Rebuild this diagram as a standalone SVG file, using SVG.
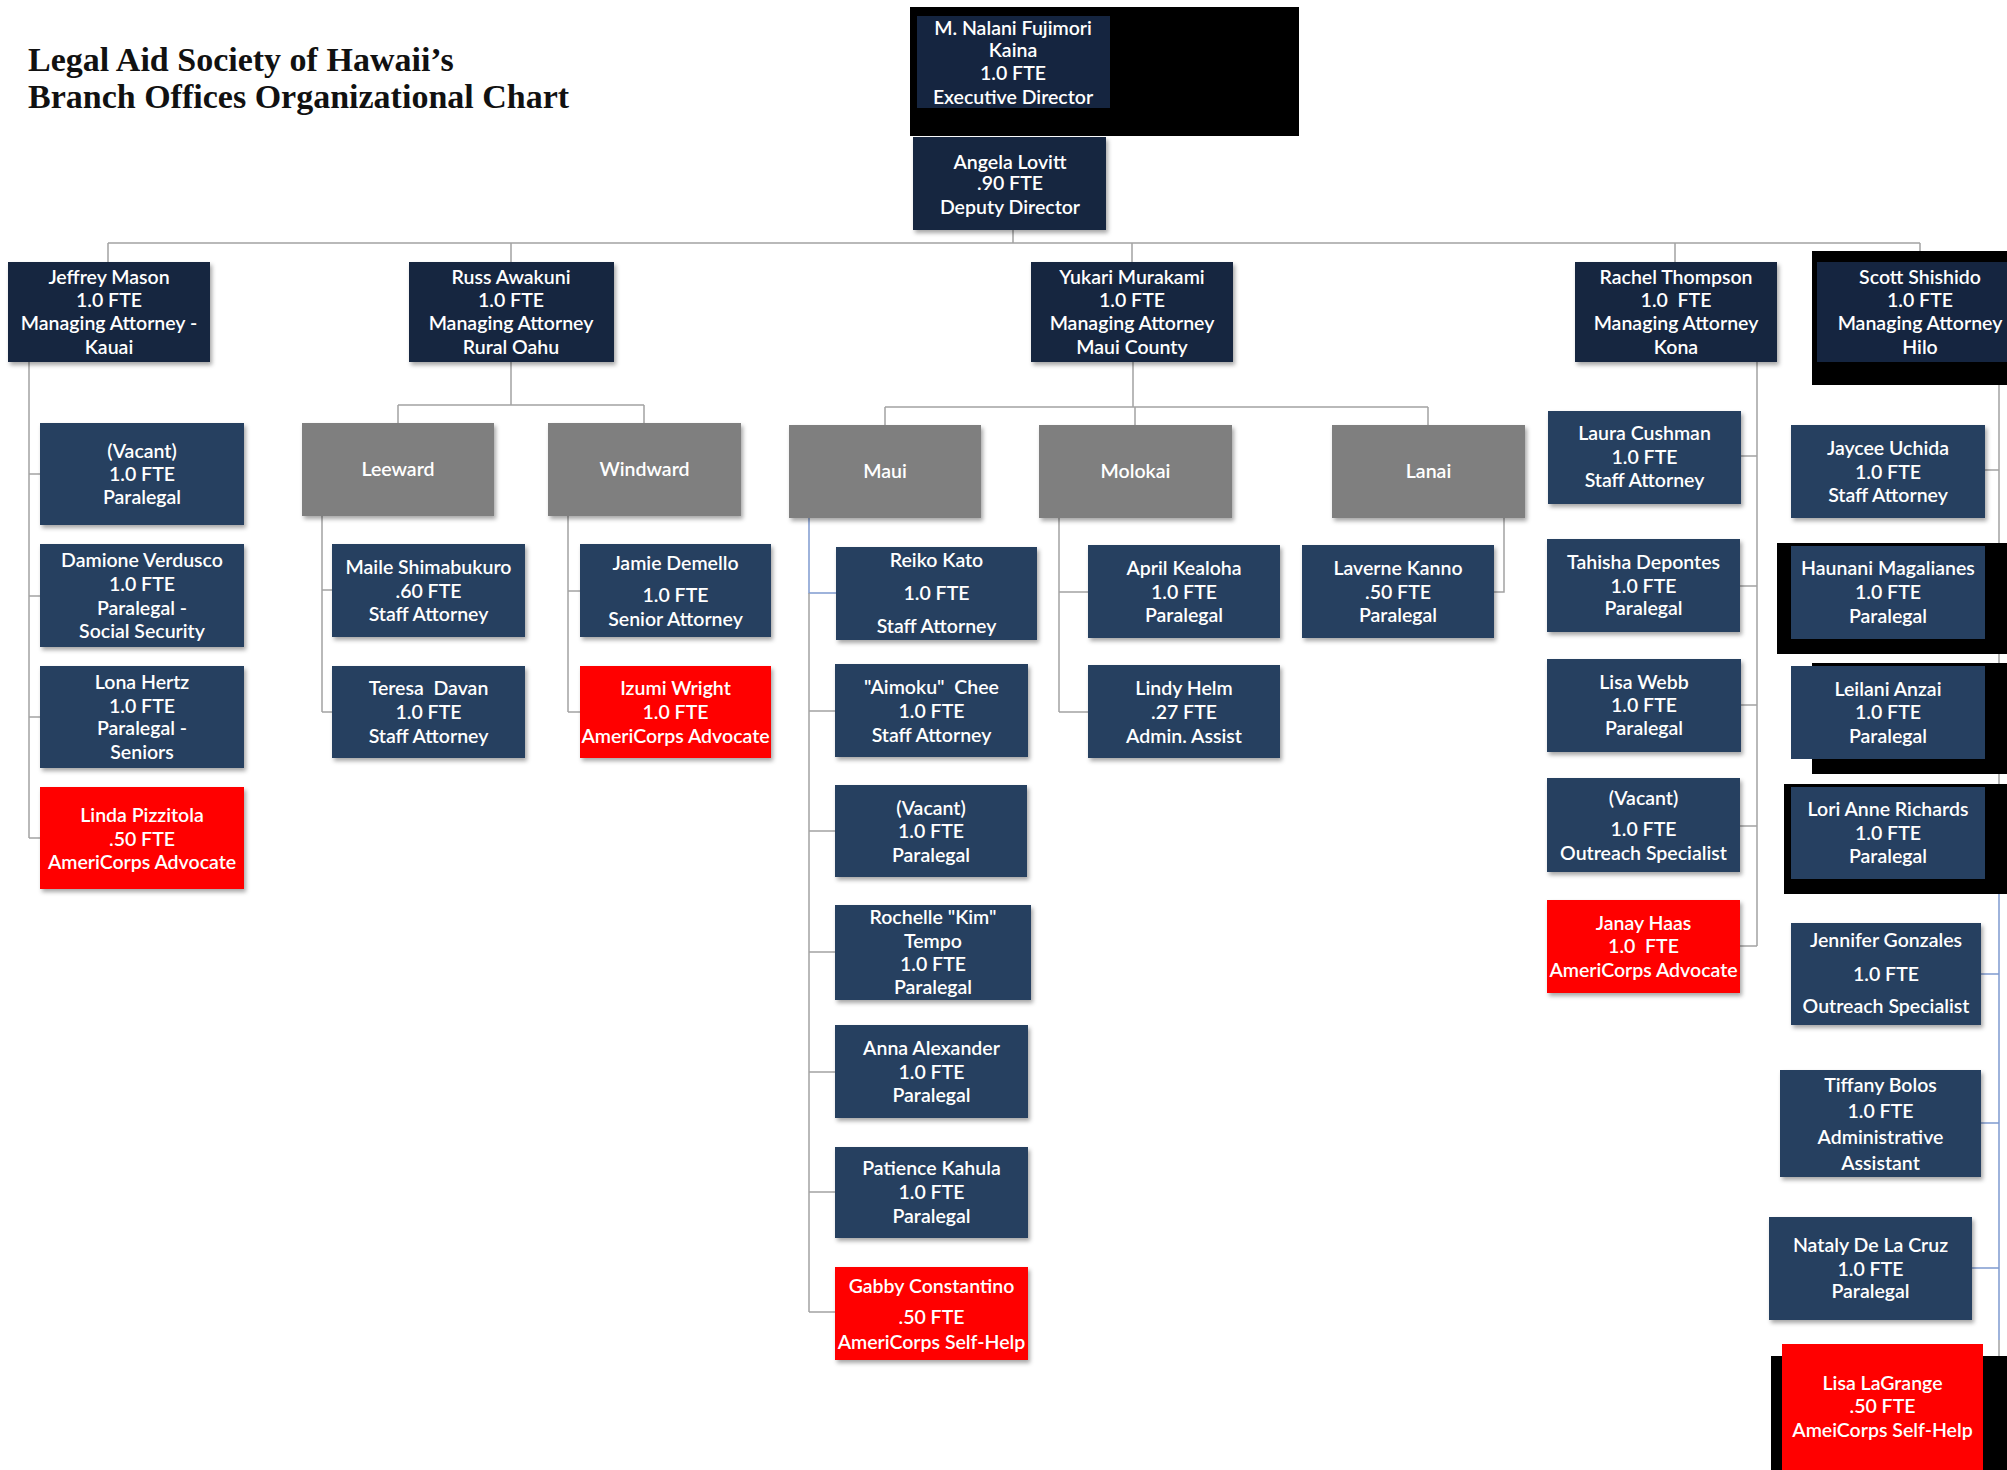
<svg xmlns="http://www.w3.org/2000/svg" width="2007" height="1470" viewBox="0 0 2007 1470">
<defs>
<filter id="sh" x="-10%" y="-10%" width="125%" height="130%"><feDropShadow dx="2" dy="3" stdDeviation="2" flood-color="#000" flood-opacity="0.35"/></filter>
<style>
.bg{fill:#ffffff}
.title{font-family:"Liberation Serif","Times New Roman",serif;font-weight:bold;font-size:34px;fill:#111111}
.t{font-family:Lato,"Open Sans",sans-serif;font-weight:600;font-size:19.5px;fill:#ffffff;text-anchor:middle}
.mgr{fill:#152540;filter:url(#sh)}
.staff{fill:#264061;filter:url(#sh)}
.grp{fill:#7f7f7f;filter:url(#sh)}
.red{fill:#ff0000;filter:url(#sh)}
.blk{fill:#000000}
.c{fill:none;stroke:#a3a3a3;stroke-width:1.5}
.cb{fill:none;stroke:#7f9bd0;stroke-width:1.5}
</style>
</defs>
<rect class="bg" x="0" y="0" width="2007" height="1470"/>
<g id="title">
<text class="title" x="28" y="71">Legal Aid Society of Hawaii’s</text>
<text class="title" x="28" y="108">Branch Offices Organizational Chart</text>
</g>
<g id="connectors">
<path class="c" d="M1013,230V243M108,243H1920M108,243V262M511,243V262M1132,243V262M1675,243V262M1920,243V251"/>
<path class="c" d="M29,362V838M29,474H40M29,596H40M29,717H40M29,838H40"/>
<path class="c" d="M511,362V405M398,405H644M398,405V423M644,405V423"/>
<path class="c" d="M322,516V712M322,590H332M322,712H332M568,516V712M568,591H580M568,712H580"/>
<path class="c" d="M1133,362V407M885,407H1428M885,407V425M1135,407V425M1428,407V425"/>
<path class="cb" d="M809,518V593H836"/>
<path class="c" d="M809,593V1312M809,711H835M809,831H835M809,952H835M809,1072H835M809,1192H835M809,1312H835"/>
<path class="c" d="M1059,518V712M1059,592H1088M1059,712H1088M1504,518V592H1494"/>
<path class="c" d="M1757,362V946M1757,456H1741M1757,586H1740M1757,705H1741M1757,826H1740M1757,946H1740"/>
<path class="c" d="M1999,385V893M1999,470H1985M1999,592H1985M1999,712H1985M1999,833H1985M1999,1340V1356"/>
<path class="cb" d="M1999,893V1340M1999,974H1981M1999,1123H1981M1999,1268H1972"/>
</g>
<g id="n-exec">
<rect class="blk" x="910" y="7" width="389" height="129"/>
<rect fill="#152540" x="917" y="16" width="193" height="92"/>
<text class="t" x="1013" y="35">M. Nalani Fujimori</text>
<text class="t" x="1013" y="57">Kaina</text>
<text class="t" x="1013" y="80">1.0 FTE</text>
<text class="t" x="1013" y="104">Executive Director</text>
</g>
<g id="n-deputy">
<rect class="mgr" x="913" y="137" width="193" height="93"/>
<text class="t" x="1010" y="169">Angela Lovitt</text>
<text class="t" x="1010" y="190">.90 FTE</text>
<text class="t" x="1010" y="214">Deputy Director</text>
</g>
<g id="n-jeffrey">
<rect class="mgr" x="8" y="262" width="202" height="100"/>
<text class="t" x="109" y="284">Jeffrey Mason</text>
<text class="t" x="109" y="307">1.0 FTE</text>
<text class="t" x="109" y="330">Managing Attorney -</text>
<text class="t" x="109" y="354">Kauai</text>
</g>
<g id="n-russ">
<rect class="mgr" x="409" y="262" width="205" height="100"/>
<text class="t" x="511" y="284">Russ Awakuni</text>
<text class="t" x="511" y="307">1.0 FTE</text>
<text class="t" x="511" y="330">Managing Attorney</text>
<text class="t" x="511" y="354">Rural Oahu</text>
</g>
<g id="n-yukari">
<rect class="mgr" x="1031" y="262" width="202" height="100"/>
<text class="t" x="1132" y="284">Yukari Murakami</text>
<text class="t" x="1132" y="307">1.0 FTE</text>
<text class="t" x="1132" y="330">Managing Attorney</text>
<text class="t" x="1132" y="354">Maui County</text>
</g>
<g id="n-rachel">
<rect class="mgr" x="1575" y="262" width="202" height="100"/>
<text class="t" x="1676" y="284">Rachel Thompson</text>
<text class="t" x="1676" y="307" xml:space="preserve">1.0  FTE</text>
<text class="t" x="1676" y="330">Managing Attorney</text>
<text class="t" x="1676" y="354">Kona</text>
</g>
<g id="n-scott">
<rect class="blk" x="1812" y="251" width="200" height="134"/>
<rect fill="#152540" x="1817" y="262" width="206" height="100"/>
<text class="t" x="1920" y="284">Scott Shishido</text>
<text class="t" x="1920" y="307">1.0 FTE</text>
<text class="t" x="1920" y="330">Managing Attorney</text>
<text class="t" x="1920" y="354">Hilo</text>
</g>
<g id="n-kauai-vacant">
<rect class="staff" x="40" y="423" width="204" height="102"/>
<text class="t" x="142" y="458">(Vacant)</text>
<text class="t" x="142" y="481">1.0 FTE</text>
<text class="t" x="142" y="504">Paralegal</text>
</g>
<g id="n-damione">
<rect class="staff" x="40" y="544" width="204" height="103"/>
<text class="t" x="142" y="567">Damione Verdusco</text>
<text class="t" x="142" y="591">1.0 FTE</text>
<text class="t" x="142" y="615">Paralegal -</text>
<text class="t" x="142" y="638">Social Security</text>
</g>
<g id="n-lona">
<rect class="staff" x="40" y="666" width="204" height="102"/>
<text class="t" x="142" y="689">Lona Hertz</text>
<text class="t" x="142" y="713">1.0 FTE</text>
<text class="t" x="142" y="735">Paralegal -</text>
<text class="t" x="142" y="759">Seniors</text>
</g>
<g id="n-linda">
<rect class="red" x="40" y="787" width="204" height="102"/>
<text class="t" x="142" y="822">Linda Pizzitola</text>
<text class="t" x="142" y="846">.50 FTE</text>
<text class="t" x="142" y="869">AmeriCorps Advocate</text>
</g>
<g id="n-leeward">
<rect class="grp" x="302" y="423" width="192" height="93"/>
<text class="t" x="398" y="476">Leeward</text>
</g>
<g id="n-windward">
<rect class="grp" x="548" y="423" width="193" height="93"/>
<text class="t" x="644.5" y="476">Windward</text>
</g>
<g id="n-maile">
<rect class="staff" x="332" y="544" width="193" height="93"/>
<text class="t" x="428.5" y="574">Maile Shimabukuro</text>
<text class="t" x="428.5" y="598">.60 FTE</text>
<text class="t" x="428.5" y="621">Staff Attorney</text>
</g>
<g id="n-teresa">
<rect class="staff" x="332" y="666" width="193" height="92"/>
<text class="t" x="428.5" y="695" xml:space="preserve">Teresa  Davan</text>
<text class="t" x="428.5" y="719">1.0 FTE</text>
<text class="t" x="428.5" y="743">Staff Attorney</text>
</g>
<g id="n-jamie">
<rect class="staff" x="580" y="544" width="191" height="93"/>
<text class="t" x="675.5" y="570">Jamie Demello</text>
<text class="t" x="675.5" y="602">1.0 FTE</text>
<text class="t" x="675.5" y="626">Senior Attorney</text>
</g>
<g id="n-izumi">
<rect class="red" x="580" y="666" width="191" height="92"/>
<text class="t" x="675.5" y="695">Izumi Wright</text>
<text class="t" x="675.5" y="719">1.0 FTE</text>
<text class="t" x="675.5" y="743">AmeriCorps Advocate</text>
</g>
<g id="n-maui">
<rect class="grp" x="789" y="425" width="192" height="93"/>
<text class="t" x="885" y="478">Maui</text>
</g>
<g id="n-molokai">
<rect class="grp" x="1039" y="425" width="193" height="93"/>
<text class="t" x="1135.5" y="478">Molokai</text>
</g>
<g id="n-lanai">
<rect class="grp" x="1332" y="425" width="193" height="93"/>
<text class="t" x="1428.5" y="478">Lanai</text>
</g>
<g id="n-reiko">
<rect class="staff" x="836" y="547" width="201" height="93"/>
<text class="t" x="936.5" y="567">Reiko Kato</text>
<text class="t" x="936.5" y="600">1.0 FTE</text>
<text class="t" x="936.5" y="633">Staff Attorney</text>
</g>
<g id="n-aimoku">
<rect class="staff" x="835" y="664" width="193" height="93"/>
<text class="t" x="931.5" y="694" xml:space="preserve">"Aimoku"  Chee</text>
<text class="t" x="931.5" y="718">1.0 FTE</text>
<text class="t" x="931.5" y="742">Staff Attorney</text>
</g>
<g id="n-maui-vacant">
<rect class="staff" x="835" y="785" width="192" height="92"/>
<text class="t" x="931" y="815">(Vacant)</text>
<text class="t" x="931" y="838">1.0 FTE</text>
<text class="t" x="931" y="862">Paralegal</text>
</g>
<g id="n-rochelle">
<rect class="staff" x="835" y="905" width="196" height="95"/>
<text class="t" x="933" y="924">Rochelle "Kim"</text>
<text class="t" x="933" y="948">Tempo</text>
<text class="t" x="933" y="971">1.0 FTE</text>
<text class="t" x="933" y="994">Paralegal</text>
</g>
<g id="n-anna">
<rect class="staff" x="835" y="1025" width="193" height="93"/>
<text class="t" x="931.5" y="1055">Anna Alexander</text>
<text class="t" x="931.5" y="1079">1.0 FTE</text>
<text class="t" x="931.5" y="1102">Paralegal</text>
</g>
<g id="n-patience">
<rect class="staff" x="835" y="1147" width="193" height="91"/>
<text class="t" x="931.5" y="1175">Patience Kahula</text>
<text class="t" x="931.5" y="1199">1.0 FTE</text>
<text class="t" x="931.5" y="1223">Paralegal</text>
</g>
<g id="n-gabby">
<rect class="red" x="835" y="1267" width="193" height="93"/>
<text class="t" x="931.5" y="1293">Gabby Constantino</text>
<text class="t" x="931.5" y="1324">.50 FTE</text>
<text class="t" x="931.5" y="1349">AmeriCorps Self-Help</text>
</g>
<g id="n-april">
<rect class="staff" x="1088" y="545" width="192" height="93"/>
<text class="t" x="1184" y="575">April Kealoha</text>
<text class="t" x="1184" y="599">1.0 FTE</text>
<text class="t" x="1184" y="622">Paralegal</text>
</g>
<g id="n-lindy">
<rect class="staff" x="1088" y="665" width="192" height="93"/>
<text class="t" x="1184" y="695">Lindy Helm</text>
<text class="t" x="1184" y="719">.27 FTE</text>
<text class="t" x="1184" y="743">Admin. Assist</text>
</g>
<g id="n-laverne">
<rect class="staff" x="1302" y="545" width="192" height="93"/>
<text class="t" x="1398" y="575">Laverne Kanno</text>
<text class="t" x="1398" y="599">.50 FTE</text>
<text class="t" x="1398" y="622">Paralegal</text>
</g>
<g id="n-laura">
<rect class="staff" x="1548" y="411" width="193" height="93"/>
<text class="t" x="1644.5" y="440">Laura Cushman</text>
<text class="t" x="1644.5" y="464">1.0 FTE</text>
<text class="t" x="1644.5" y="487">Staff Attorney</text>
</g>
<g id="n-tahisha">
<rect class="staff" x="1547" y="539" width="193" height="93"/>
<text class="t" x="1643.5" y="569">Tahisha Depontes</text>
<text class="t" x="1643.5" y="593">1.0 FTE</text>
<text class="t" x="1643.5" y="615">Paralegal</text>
</g>
<g id="n-lisawebb">
<rect class="staff" x="1547" y="659" width="194" height="93"/>
<text class="t" x="1644" y="689">Lisa Webb</text>
<text class="t" x="1644" y="712">1.0 FTE</text>
<text class="t" x="1644" y="735">Paralegal</text>
</g>
<g id="n-kona-vacant">
<rect class="staff" x="1547" y="778" width="193" height="94"/>
<text class="t" x="1643.5" y="805">(Vacant)</text>
<text class="t" x="1643.5" y="836">1.0 FTE</text>
<text class="t" x="1643.5" y="860">Outreach Specialist</text>
</g>
<g id="n-janay">
<rect class="red" x="1547" y="900" width="193" height="93"/>
<text class="t" x="1643.5" y="930">Janay Haas</text>
<text class="t" x="1643.5" y="953" xml:space="preserve">1.0  FTE</text>
<text class="t" x="1643.5" y="977">AmeriCorps Advocate</text>
</g>
<g id="n-jaycee">
<rect class="staff" x="1791" y="425" width="194" height="93"/>
<text class="t" x="1888" y="455">Jaycee Uchida</text>
<text class="t" x="1888" y="479">1.0 FTE</text>
<text class="t" x="1888" y="502">Staff Attorney</text>
</g>
<g id="n-haunani">
<rect class="blk" x="1777" y="543" width="230" height="111"/>
<rect fill="#264061" x="1791" y="546" width="194" height="93"/>
<text class="t" x="1888" y="575">Haunani Magalianes</text>
<text class="t" x="1888" y="599">1.0 FTE</text>
<text class="t" x="1888" y="623">Paralegal</text>
</g>
<g id="n-leilani">
<rect class="blk" x="1812" y="663" width="195" height="111"/>
<rect fill="#264061" x="1791" y="666" width="194" height="93"/>
<text class="t" x="1888" y="696">Leilani Anzai</text>
<text class="t" x="1888" y="719">1.0 FTE</text>
<text class="t" x="1888" y="743">Paralegal</text>
</g>
<g id="n-lori">
<rect class="blk" x="1784" y="784" width="223" height="110"/>
<rect fill="#264061" x="1791" y="787" width="194" height="92"/>
<text class="t" x="1888" y="816">Lori Anne Richards</text>
<text class="t" x="1888" y="840">1.0 FTE</text>
<text class="t" x="1888" y="863">Paralegal</text>
</g>
<g id="n-jennifer">
<rect class="staff" x="1791" y="923" width="190" height="102"/>
<text class="t" x="1886" y="947">Jennifer Gonzales</text>
<text class="t" x="1886" y="981">1.0 FTE</text>
<text class="t" x="1886" y="1013">Outreach Specialist</text>
</g>
<g id="n-tiffany">
<rect class="staff" x="1780" y="1070" width="201" height="107"/>
<text class="t" x="1880.5" y="1092">Tiffany Bolos</text>
<text class="t" x="1880.5" y="1118">1.0 FTE</text>
<text class="t" x="1880.5" y="1144">Administrative</text>
<text class="t" x="1880.5" y="1170">Assistant</text>
</g>
<g id="n-nataly">
<rect class="staff" x="1769" y="1217" width="203" height="103"/>
<text class="t" x="1870.5" y="1252">Nataly De La Cruz</text>
<text class="t" x="1870.5" y="1276">1.0 FTE</text>
<text class="t" x="1870.5" y="1298">Paralegal</text>
</g>
<g id="n-lagrange">
<rect class="blk" x="1771" y="1356" width="236" height="114"/>
<rect fill="#ff0000" x="1782" y="1344" width="201" height="126"/>
<text class="t" x="1882.5" y="1390">Lisa LaGrange</text>
<text class="t" x="1882.5" y="1413">.50 FTE</text>
<text class="t" x="1882.5" y="1437">AmeiCorps Self-Help</text>
</g>
</svg>
